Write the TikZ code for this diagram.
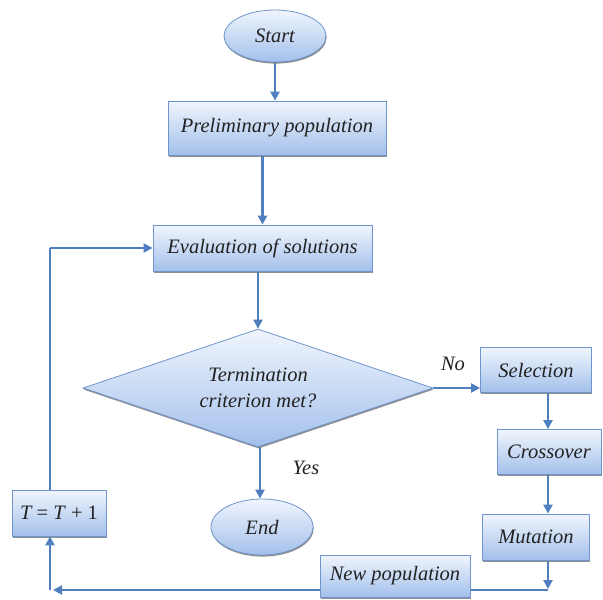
\documentclass[tikz,border=0pt]{standalone}
\usepackage{fontspec}
\setmainfont{Liberation Serif}
\usetikzlibrary{shapes.geometric,shadows,backgrounds,arrows.meta,calc}
\pgfdeclarelayer{back}
\pgfsetlayers{back,background,main}
\definecolor{bordc}{HTML}{6F95CC}
\definecolor{topc}{HTML}{F0F5FD}
\definecolor{botc}{HTML}{A3C0EB}
\definecolor{arrc}{HTML}{4F7FBF}
\definecolor{txtc}{HTML}{222222}
\tikzset{
  shp/.style={draw=bordc, line width=0.8pt, top color=topc, bottom color=botc,
    text=txtc, font=\fontsize{20.5}{24}\selectfont\itshape, inner sep=0pt,
    drop shadow={shadow xshift=0.6pt, shadow yshift=-1.6pt, fill=black!55, opacity=0.8}},
  boxnode/.style={shp, rectangle},
  ovalnode/.style={shp, ellipse},
  decnode/.style={shp, diamond, align=center, aspect=3},
  arr/.style={draw=arrc, line width=2.2pt, -{Triangle[length=9pt,width=9pt]}},
  ln/.style={draw=arrc, line width=2.2pt},
  lbl/.style={text=txtc, font=\fontsize{20.5}{24}\selectfont\itshape}
}
\begin{document}
\begin{tikzpicture}[x=1pt,y=-1pt]
\useasboundingbox (0,0) rectangle (603,600);
\begin{pgfonlayer}{back}
\fill[white] (0,0) rectangle (603,600);
\end{pgfonlayer}
\node[ovalnode, minimum width=102pt, minimum height=52pt] (start) at (275,36) {Start};
\node[boxnode, minimum width=218pt, minimum height=54pt] (prelim) at (277,128) {Preliminary population};
\node[boxnode, minimum width=219pt, minimum height=46pt] (eval) at (262.5,248) {Evaluation of solutions};
\node[decnode, minimum width=350pt, minimum height=118pt] (dec) at (258,388) {Termination\\[2pt]criterion met?};
\node[boxnode, minimum width=111pt, minimum height=45pt] (sel) at (536,370) {Selection};
\node[boxnode, minimum width=104pt, minimum height=45pt] (cross) at (549,452) {Crossover};
\node[boxnode, minimum width=107pt, minimum height=46pt] (mut) at (536,537) {Mutation};
\node[boxnode, minimum width=150pt, minimum height=42pt] (newpop) at (395,576) {New population};
\node[ovalnode, minimum width=102pt, minimum height=56pt] (end) at (262,527) {End};
\node[boxnode, minimum width=94pt, minimum height=46pt] (tbox) at (59,513) {\textit{T}\upshape{} = \textit{T} + 1};
\node[lbl] (no) at (453,364) {No};
\node[lbl] (yes) at (306,468) {Yes};
\coordinate (c1) at (548,590);
\coordinate (c2) at (50,590);
\coordinate (c3) at (50,248);
\begin{scope}[on background layer]
\draw[arr] (start.south) -- (start.south |- prelim.north);
\draw[arr] (eval.north |- prelim.south) -- (eval.north);
\draw[arr] (dec.north |- eval.south) -- (dec.north);
\draw[arr] (dec.east) -- (dec.east -| sel.west);
\draw[arr] (548,0 |- sel.south) -- (548,0 |- cross.north);
\draw[arr] (548,0 |- cross.south) -- (548,0 |- mut.north);
\draw[arr] (548,0 |- mut.south) -- ($(c1)+(0,-1)$);
\draw[arr] (c1) -- ($(c2)+(3,0)$);
\draw[arr] (c2) -- (c2 |- tbox.south);
\draw[ln] (c2 |- tbox.north) -- (c3);
\draw[arr] (c3) -- (eval.west);
\draw[arr] (260,0 |- dec.south) -- (260,0 |- end.north);
\end{scope}
\end{tikzpicture}
\end{document}
